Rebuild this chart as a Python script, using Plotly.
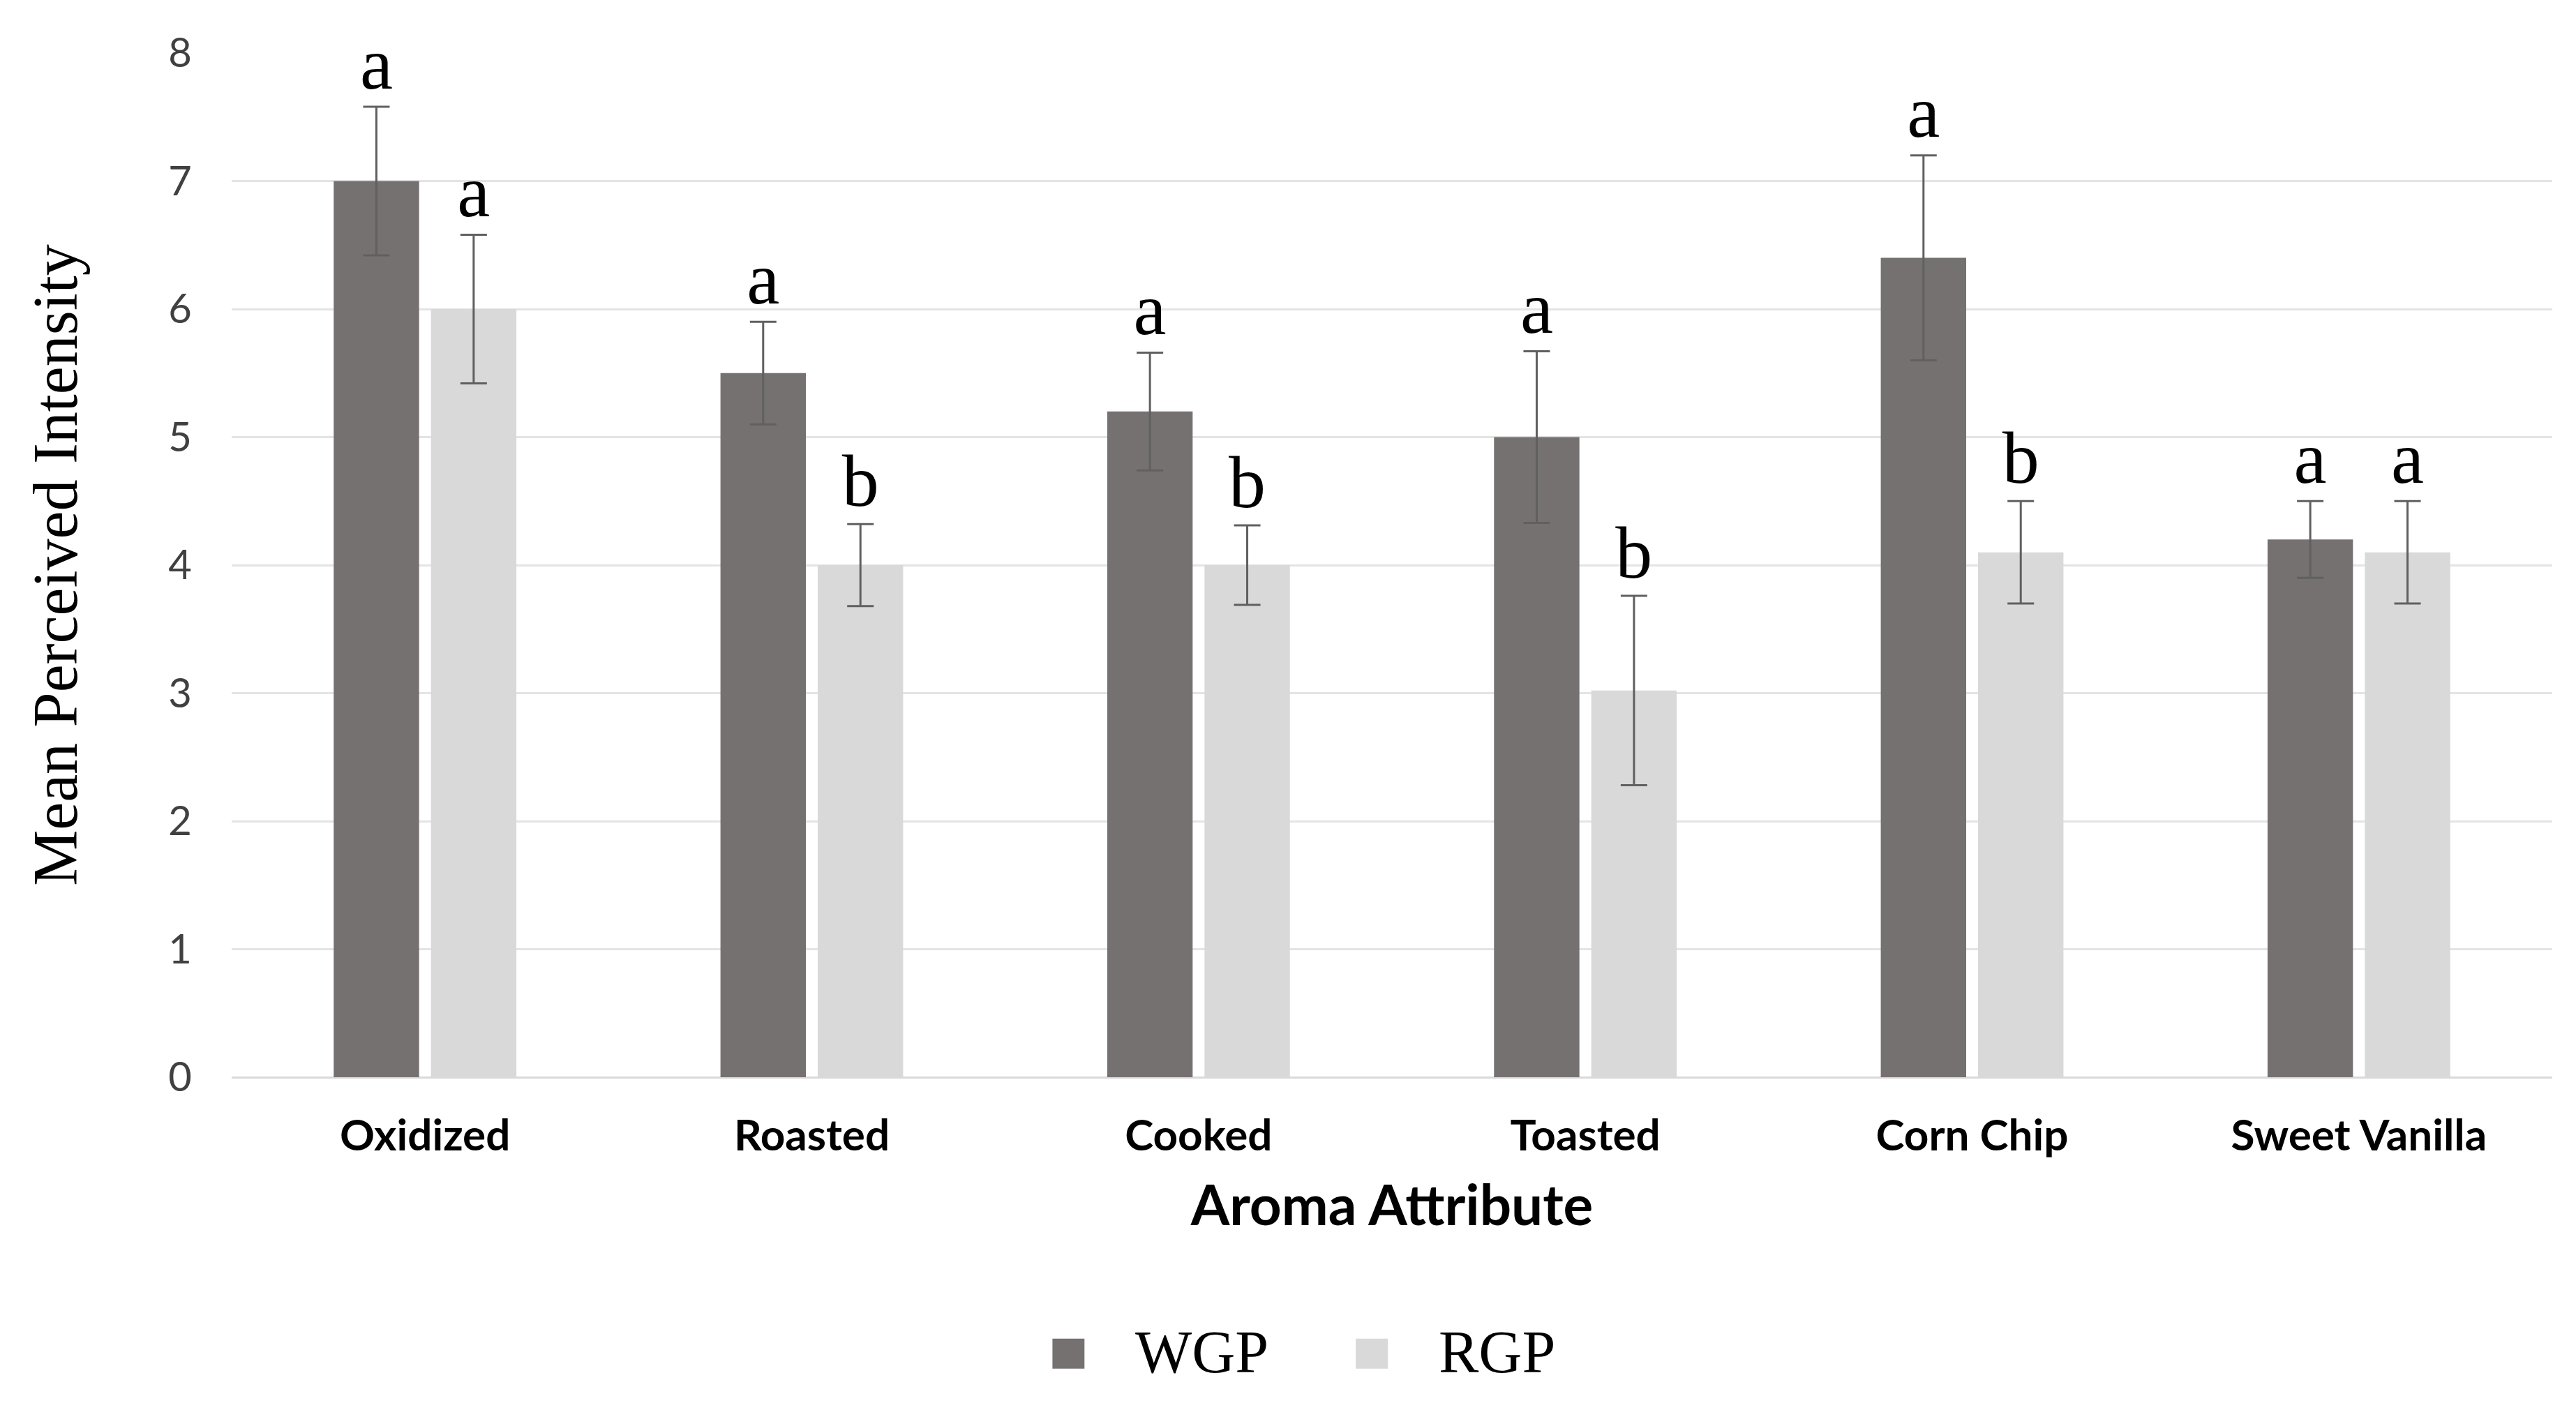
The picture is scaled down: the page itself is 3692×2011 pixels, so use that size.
import plotly.graph_objects as go

categories = ["Oxidized", "Roasted", "Cooked", "Toasted", "Corn Chip", "Sweet Vanilla"]
wgp_values = [7.0, 5.5, 5.2, 5.0, 6.4, 4.2]
rgp_values = [6.0, 4.0, 4.0, 3.02, 4.1, 4.1]
wgp_errors = [0.58, 0.4, 0.46, 0.67, 0.8, 0.3]
rgp_errors = [0.58, 0.32, 0.31, 0.74, 0.4, 0.4]
wgp_letters = ["a", "a", "a", "a", "a", "a"]
rgp_letters = ["a", "b", "b", "b", "b", "a"]
y_ticks = [0, 1, 2, 3, 4, 5, 6, 7, 8]

WGP_COLOR = "#767171"
RGP_COLOR = "#D9D9D9"
ERR_COLOR = "#606060"

fig = go.Figure()

for name, vals, errs, color in [("WGP", wgp_values, wgp_errors, WGP_COLOR),
                                ("RGP", rgp_values, rgp_errors, RGP_COLOR)]:
    fig.add_trace(go.Bar(
        x=categories, y=vals, name=name, offsetgroup=name,
        marker=dict(color=color, line=dict(width=0)),
        error_y=dict(type="data", array=errs, visible=True,
                     color=ERR_COLOR, thickness=3, width=19),
        showlegend=False,
    ))

for name, vals, errs, letters in [("WGP", wgp_values, wgp_errors, wgp_letters),
                                  ("RGP", rgp_values, rgp_errors, rgp_letters)]:
    fig.add_trace(go.Scatter(
        x=categories, y=[v + e for v, e in zip(vals, errs)],
        mode="text", text=letters, textposition="top center",
        textfont=dict(family="Liberation Serif", size=106, color="black"),
        offsetgroup=name, showlegend=False, hoverinfo="skip",
    ))

# manual legend (large swatches)
legend_items = [("WGP", WGP_COLOR, 0.3537), ("RGP", RGP_COLOR, 0.4844)]
for label, color, x0 in legend_items:
    fig.add_shape(type="rect", xref="paper", yref="paper",
                  x0=x0, x1=x0 + 0.0138, y0=-0.2846, y1=-0.2553,
                  fillcolor=color, line=dict(width=0))
    fig.add_annotation(xref="paper", yref="paper", x=x0 + 0.035, y=-0.2685,
                       text=label, showarrow=False, xanchor="left", yanchor="middle",
                       font=dict(family="Liberation Serif", size=86, color="black"))

fig.update_layout(
    width=3692, height=2011,
    margin=dict(l=324, r=42, t=68, b=475),
    plot_bgcolor="white", paper_bgcolor="white",
    barmode="group", bargap=0.497, bargroupgap=0.122,
    scattermode="group", scattergap=0.497,
    showlegend=False,
    xaxis=dict(
        type="category",
        tickfont=dict(family="Lato", size=62, color="black", weight="bold"),
        ticks="", showgrid=False, showline=False,
        ticklabelstandoff=42,
        title=dict(text="<b>Aroma Attribute</b>", standoff=38,
                   font=dict(family="Lato", size=80, color="black")),
    ),
    yaxis=dict(
        range=[0, 8], tickvals=y_ticks,
        tickfont=dict(family="Lato", size=58, color="#404040"),
        showgrid=True, gridcolor="#E4E4E4", gridwidth=3,
        zeroline=True, zerolinecolor="#D9D9D9", zerolinewidth=3,
        showline=False, ticks="", ticklabelstandoff=56,
        title=dict(text="Mean Perceived Intensity", standoff=100,
                   font=dict(family="Liberation Serif", size=90, color="black")),
    ),
)

fig.write_html("out.html")
